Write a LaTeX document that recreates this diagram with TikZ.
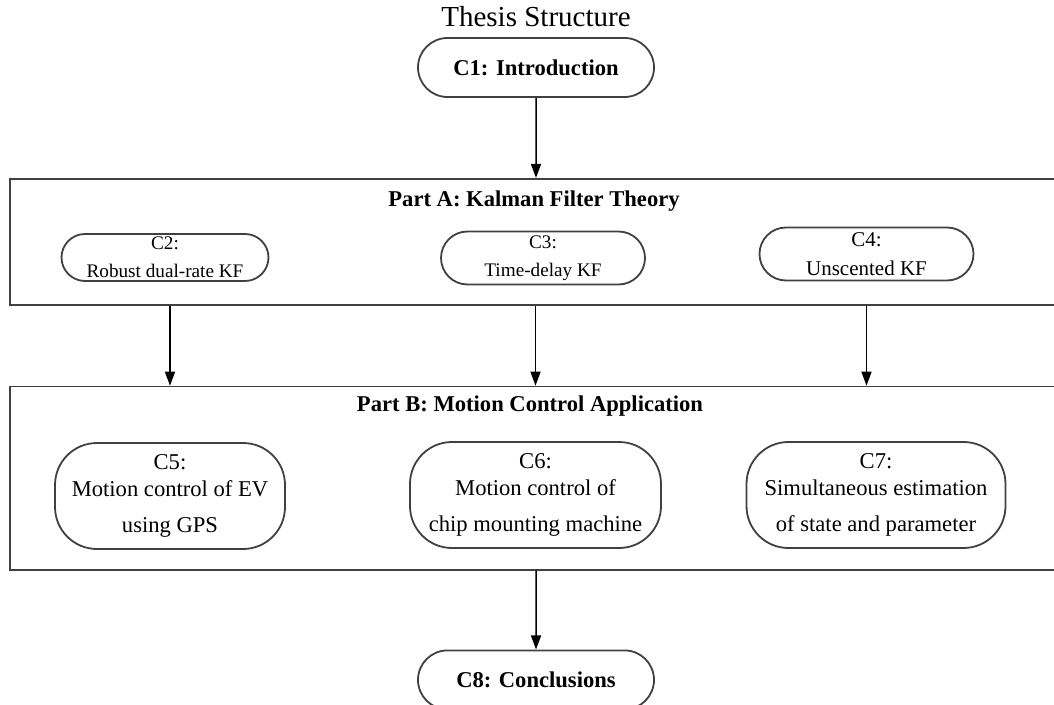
\documentclass[tikz,border=0pt]{standalone}
\usepackage{fontspec}
\setmainfont{Liberation Serif}
\usetikzlibrary{shapes.misc, arrows.meta, positioning}
\definecolor{grisBorde}{HTML}{404040}

\begin{document}
\begin{tikzpicture}[x=0.5pt, y=-0.5pt,
        chap/.style={draw=grisBorde, line width=0.9pt, rounded rectangle, align=center,
            inner xsep=-2pt, inner ysep=0pt, font=\fontsize{11.3}{13.5}\selectfont},
        chapT/.style={chap, font=\fontsize{11.3}{13.5}\selectfont\bfseries,
            minimum width=114pt, minimum height=29.5pt},
        chapA/.style={chap, font=\fontsize{9.6}{14}\selectfont, minimum height=23.5pt},
        chapB/.style={draw=grisBorde, line width=0.9pt, rectangle, rounded corners=21pt, align=center,
            inner sep=0pt, minimum height=53pt, font=\fontsize{11.3}{13.5}\selectfont},
        part/.style={draw=grisBorde, line width=0.9pt, minimum width=526pt},
        partTit/.style={inner sep=0pt, font=\fontsize{11.3}{13.5}\selectfont\bfseries},
        arr/.style={-{Triangle[length=7pt, width=5pt]}, line width=0.75pt}
    ]
    \useasboundingbox (0,0) rectangle (1054,705);
    \clip (0,0) rectangle (1054,705);

    \node[chapT] (c1) at (536,67.5) {C1: Introduction};
    \node[inner sep=0pt, font=\fontsize{14.5}{17}\selectfont, above=5pt of c1] (titulo) {Thesis Structure};

    % Part A
    \node[part, minimum height=63pt, below=40pt of c1] (partA) {};
    \node[partTit] (titA) at (534,201) {Part A: Kalman Filter Theory};
    \node[chapA, minimum width=99.5pt] (c2) at (165,257.5) {C2:\\Robust dual-rate KF};
    \node[chapA, minimum width=98pt, minimum height=26.5pt] (c3) at (543,258) {C3:\\Time-delay KF};
    \node[chap, font=\fontsize{10.5}{14.5}\selectfont, minimum width=103pt, minimum height=26.5pt] (c4) at (866.5,254) {C4:\\Unscented KF};

    % Part B
    \node[part, minimum height=91.5pt, below=40pt of partA] (partB) {};
    \node[partTit] (titB) at (530,406) {Part B: Motion Control Application};
    \node[chapB, minimum width=115pt] (c5) at (170,496) {C5:\\Motion control of EV\\[4.5pt]using GPS};
    \node[chapB, minimum width=125.5pt] (c6) at (535.5,495) {C6:\\Motion control of\\[4.5pt]chip mounting machine};
    \node[chapB, minimum width=129.5pt] (c7) at (876,495) {C7:\\Simultaneous estimation\\[4.5pt]of state and parameter};

    \node[chapT, below=39.5pt of partB] (c8) {C8: Conclusions};

    \draw[arr] (c1) -- (partA);
    \draw[arr] (c5 |- partA.south) -- (c5 |- partB.north);
    \draw[arr] (c6 |- partA.south) -- (c6 |- partB.north);
    \draw[arr] (c4 |- partA.south) -- (c4 |- partB.north);
    \draw[arr] (partB) -- (c8);
\end{tikzpicture}
\end{document}
